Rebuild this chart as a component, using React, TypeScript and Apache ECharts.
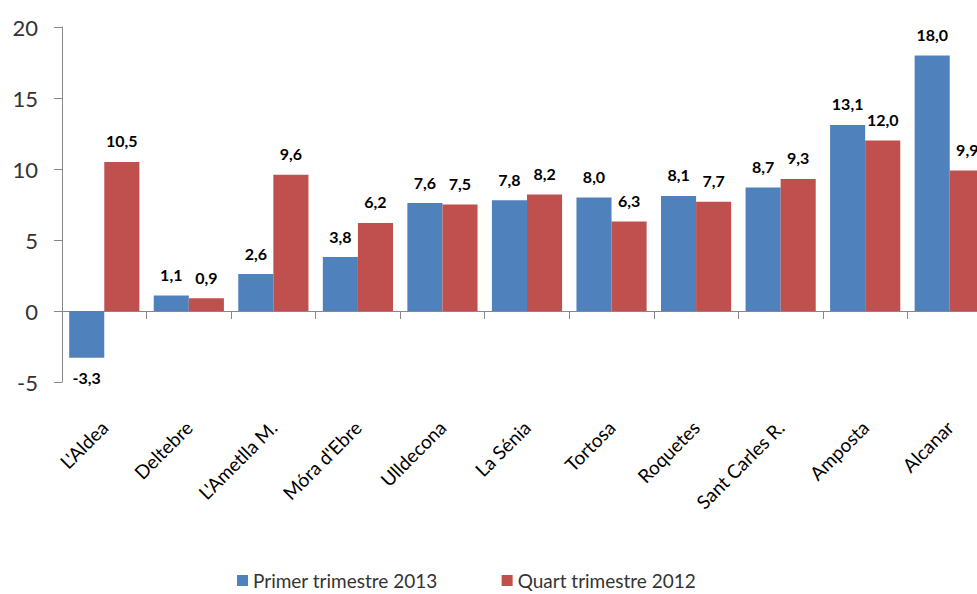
import React, { useEffect, useRef } from "react";
import * as echarts from "echarts";

const categories = ["L'Aldea", "Deltebre", "L'Ametlla M.", "Móra d'Ebre", "Ulldecona", "La Sénia", "Tortosa", "Roquetes", "Sant Carles R.", "Amposta", "Alcanar"];
const primer2013 = [-3.3, 1.1, 2.6, 3.8, 7.6, 7.8, 8.0, 8.1, 8.7, 13.1, 18.0];
const quart2012 = [10.5, 0.9, 9.6, 6.2, 7.5, 8.2, 6.3, 7.7, 9.3, 12.0, 9.9];
const seriesNames = ["Primer trimestre 2013", "Quart trimestre 2012"];
const yTicks = { min: -5, max: 20, interval: 5 };

const FONT = "Lato, 'Open Sans', sans-serif";

function fmt(v: number) {
  return v.toFixed(1).replace(".", ",");
}

function toData(arr: number[]) {
  return arr.map((v) =>
    v < 0 ? { value: v, label: { position: "bottom", distance: 12 } } : v
  );
}

export default function App() {
  const ref = useRef<HTMLDivElement>(null);
  useEffect(() => {
    document.body.style.margin = "0";
    if (!ref.current) return;
    const chart = echarts.init(ref.current, undefined, { renderer: "svg" });
    const labelCfg = {
      show: true,
      position: "top",
      distance: 13,
      formatter: (p: any) => fmt(p.value),
      fontFamily: FONT,
      fontSize: 16,
      fontWeight: "bold",
      color: "#000",
    };
    chart.setOption({
      animation: false,
      backgroundColor: "#fff",
      grid: { left: 62, right: 0, top: 27, bottom: 212, containLabel: false },
      legend: {
        left: 232,
        top: 566,
        itemWidth: 11,
        itemHeight: 11,
        itemGap: 64,
        icon: "rect",
        textStyle: { fontFamily: FONT, fontSize: 19, color: "#333" },
        data: seriesNames,
      },
      xAxis: {
        type: "category",
        data: categories,
        axisLine: { onZero: true, lineStyle: { color: "#888", width: 1 } },
        axisTick: { show: true, length: 8, lineStyle: { color: "#888" } },
        axisLabel: {
          rotate: 45,
          margin: 42,
          fontFamily: FONT,
          fontSize: 19,
          color: "#000",
          interval: 0,
        },
      },
      yAxis: {
        type: "value",
        min: yTicks.min,
        max: yTicks.max,
        interval: yTicks.interval,
        splitLine: { show: false },
        axisLine: { show: true, lineStyle: { color: "#888" } },
        axisTick: { show: true, length: 8, lineStyle: { color: "#888" } },
        axisLabel: { fontFamily: FONT, fontSize: 22, color: "#333", margin: 24 },
      },
      series: [
        {
          name: seriesNames[0],
          type: "bar",
          data: toData(primer2013),
          itemStyle: { color: "#4F81BD" },
          barGap: "0%",
          barCategoryGap: "17%",
          label: labelCfg,
        },
        {
          name: seriesNames[1],
          type: "bar",
          data: toData(quart2012),
          itemStyle: { color: "#C0504D" },
          barGap: "0%",
          barCategoryGap: "17%",
          label: labelCfg,
        },
      ],
    });
    return () => chart.dispose();
  }, []);
  return (
    <div style={{ width: 977, height: 594, overflow: "hidden", position: "relative" }}>
      <div ref={ref} style={{ width: 992, height: 594 }} />
    </div>
  );
}
